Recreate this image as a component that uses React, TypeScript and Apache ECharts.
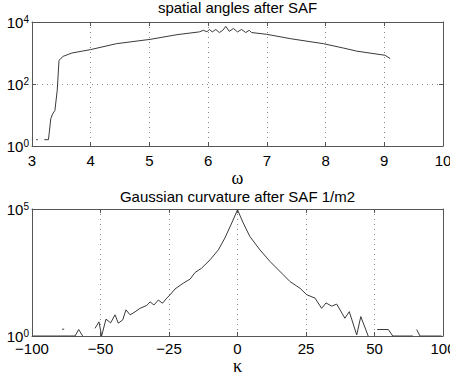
import React, { useEffect, useRef } from 'react';
import * as echarts from 'echarts';

// ---- top plot: spatial angles ----
const omegaTickValues = [3, 4, 5, 6, 7, 8, 9, 10];
const omegaDecadeTicks = [0, 2, 4]; // exponents of 10 shown on the count axis
const omegaX: (number | null)[] = [
  3.07, 3.1, null,
  3.21, 3.28, 3.295, 3.32, 3.35, 3.39, 3.43, 3.46, 3.53, 3.68, 4.0, 4.44, 5.01, 5.47, 5.85,
  5.92, 5.98, 6.02, 6.07, 6.13, 6.19, 6.25, 6.3, 6.36, 6.43, 6.5, 6.57, 6.64, 6.7, 6.74,
  7.0, 7.4, 7.96, 8.3, 8.53, 8.93, 9.01, 9.1,
];
const omegaCounts: (number | null)[] = [
  1.6, 1.6, null,
  1.6, 1.6, 2.8, 7.6, 10.7, 14, 63, 580, 780, 1000, 1290, 2000, 2750, 3900, 4800,
  5400, 4800, 5750, 4800, 5750, 4570, 5400, 7240, 5000, 6170, 4800, 5750, 4570, 5400, 4570,
  4000, 2900, 2000, 1450, 1150, 890, 850, 660,
];

// ---- bottom plot: Gaussian curvature ----
const kappaTickLabels = ['\u2212100', '\u221250', '\u221225', '0', '25', '50', '100'];
const kappaDecadeTicks = [0, 5];
const kappaX: (number | null)[] = [
  -78, -76.5, null,
  -99.3, -68.6, -65.9, -63, null,
  -54, -51.1, -49.6, -48, -46.3, -44.7, -43.5, -41.9, -40.7, -39.2, -37.4, -35.6, -33.1,
  -31.9, -30.5, -28.9, -27.4, -25.8, -24.6, -22.8, -19.8, -17.3, -15.5, -13.1, -10, -7, -4.6,
  -2.1, 0, 2.1, 4.5, 8.2, 11.9, 16.7, 19.2, 21.6, 22.8, 25.3, 28.3, 30.7, 32.3, 34.4, 36.2,
  39.2, 40.8, 43.5, 45, 47.7, null,
  52, 60.1, 63.3, 78, null,
  80.8, 83.2, 99,
];
const kappaCounts: (number | null)[] = [
  1.85, 1.85, null,
  1, 1, 1.8, 1, null,
  2, 3.6, 1, 4.6, 3.3, 6.8, 3.2, 4.3, 10.7, 6.8, 8.9, 12.3, 16,
  22, 16.6, 26, 19.5, 31, 42, 71, 120, 174, 316, 468, 1000, 2450, 7240,
  28000, 93000, 28000, 8300, 2450, 850, 257, 138, 93, 76, 42, 31, 12.3, 20, 15, 18,
  5, 9.1, 1.1, 5.8, 1, null,
  1.8, 1.8, 1, 1, null,
  1.8, 1, 1,
];

const FONT = '"Liberation Sans", Arial, Helvetica, sans-serif';
const SERIF = '"Liberation Serif", "Times New Roman", serif';
const BOX = '#555';
const GRID = '#888';
const LINE = '#3a3a3a';

function kappaPos(k: number): number {
  const a = Math.abs(k);
  const p = a <= 50 ? a / 25 : 2 + (a - 50) / 50;
  return k < 0 ? -p : p;
}

// y values are drawn on a decade (log10) axis
function pairs(xs: (number | null)[], ys: (number | null)[], f: (x: number) => number) {
  return xs.map((x, i) => {
    const y = ys[i];
    if (x == null || y == null) return ['-', '-'];
    return [f(x), Math.log10(y)];
  });
}

const logLabel = (v: number) => `{b|10}{s|${Math.round(v)}}`;
const rich = {
  b: { fontSize: 15, fontFamily: FONT, color: '#000', lineHeight: 15 },
  s: { fontSize: 10, fontFamily: FONT, color: '#000', lineHeight: 9, verticalAlign: 'top' },
};

function boxAxis(extra: any) {
  return {
    axisLine: { show: true, onZero: false, lineStyle: { color: BOX, width: 1 } },
    axisTick: { show: true, inside: true, length: 4, lineStyle: { color: BOX } },
    ...extra,
  };
}

export default function App() {
  const ref = useRef<HTMLDivElement>(null);
  useEffect(() => {
    if (!ref.current) return;
    const chart = echarts.init(ref.current, undefined, { renderer: 'svg' });
    const dotted = { show: true, lineStyle: { color: GRID, type: [1, 4], width: 1 } };
    const xLabel = { color: '#000', fontSize: 15, fontFamily: FONT, margin: 7 };
    const topY = {
      gridIndex: 0, type: 'value',
      min: omegaDecadeTicks[0], max: omegaDecadeTicks[omegaDecadeTicks.length - 1],
      interval: omegaDecadeTicks[1] - omegaDecadeTicks[0],
    };
    const botY = {
      gridIndex: 1, type: 'value',
      min: kappaDecadeTicks[0], max: kappaDecadeTicks[kappaDecadeTicks.length - 1],
      interval: kappaDecadeTicks[1] - kappaDecadeTicks[0],
    };
    const option: any = {
      animation: false,
      backgroundColor: '#fff',
      grid: [
        { left: 32, top: 22, width: 411, height: 124, outerBoundsMode: 'none', containLabel: false },
        { left: 32, top: 209, width: 411, height: 127, outerBoundsMode: 'none', containLabel: false },
      ],
      graphic: [
        {
          type: 'text', x: 237.5, y: 7,
          style: { text: 'spatial angles after SAF', fontSize: 15, fontFamily: FONT, fill: '#000', align: 'center', verticalAlign: 'middle' },
        },
        {
          type: 'text', x: 237.5, y: 196,
          style: { text: 'Gaussian curvature after SAF 1/m2', fontSize: 15, fontFamily: FONT, fill: '#000', align: 'center', verticalAlign: 'middle' },
        },
      ],
      xAxis: [
        boxAxis({
          gridIndex: 0, type: 'value', position: 'bottom',
          min: omegaTickValues[0], max: omegaTickValues[omegaTickValues.length - 1], interval: 1,
          axisLabel: { ...xLabel, formatter: (v: number) => String(v) },
          splitLine: dotted,
          name: '\u03c9', nameLocation: 'middle', nameGap: 21,
          nameTextStyle: { fontFamily: SERIF, fontSize: 18, color: '#000' },
        }),
        boxAxis({
          gridIndex: 0, type: 'value', position: 'top',
          min: omegaTickValues[0], max: omegaTickValues[omegaTickValues.length - 1], interval: 1,
          axisLabel: { show: false }, splitLine: { show: false },
        }),
        boxAxis({
          gridIndex: 1, type: 'value', position: 'bottom', min: -3, max: 3, interval: 1,
          axisLabel: { ...xLabel, margin: 5, formatter: (v: number) => kappaTickLabels[Math.round(v) + 3] },
          splitLine: dotted,
          name: '\u03ba', nameLocation: 'middle', nameGap: 22,
          nameTextStyle: { fontFamily: SERIF, fontSize: 18, color: '#000', lineHeight: 16 },
        }),
        boxAxis({
          gridIndex: 1, type: 'value', position: 'top', min: -3, max: 3, interval: 1,
          axisLabel: { show: false }, splitLine: { show: false },
        }),
      ],
      yAxis: [
        boxAxis({
          ...topY, position: 'left',
          axisLabel: { formatter: logLabel, rich, margin: 3 },
          splitLine: dotted,
        }),
        boxAxis({
          ...topY, position: 'right',
          axisLabel: { show: false }, splitLine: { show: false },
        }),
        boxAxis({
          ...botY, position: 'left',
          axisLabel: { formatter: logLabel, rich, margin: 3 },
          splitLine: { show: false },
        }),
        boxAxis({
          ...botY, position: 'right',
          axisLabel: { show: false }, splitLine: { show: false },
        }),
      ],
      series: [
        {
          type: 'line', xAxisIndex: 0, yAxisIndex: 0, showSymbol: false, symbol: 'none',
          lineStyle: { color: LINE, width: 1 },
          data: pairs(omegaX, omegaCounts, (x) => x),
        },
        {
          type: 'line', xAxisIndex: 2, yAxisIndex: 2, showSymbol: false, symbol: 'none',
          lineStyle: { color: LINE, width: 1 },
          data: pairs(kappaX, kappaCounts, kappaPos),
        },
      ],
    };
    chart.setOption(option);
    return () => chart.dispose();
  }, []);
  return (
    <div
      ref={ref}
      style={{ position: 'fixed', left: 0, top: 0, width: 450, height: 373, background: '#fff' }}
    />
  );
}
